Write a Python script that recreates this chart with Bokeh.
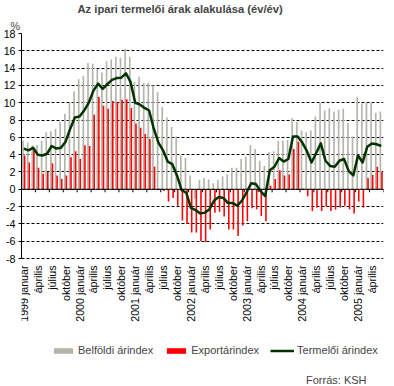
import numpy as np
from bokeh.plotting import figure
from bokeh.models import Range1d, FixedTicker, Span, Legend, LegendItem, Title, Label
from bokeh.core.properties import value
from bokeh.embed import file_html
from bokeh.resources import INLINE

years = ["1999", "2000", "2001", "2002", "2003", "2004", "2005"]
month_names = ["január", "február", "március", "április", "május", "június",
               "július", "augusztus", "szeptember", "október", "november", "december"]

belfoldi = [
    5.6, 5.4, 5.1, 5.1, 5.6, 6.6, 6.7, 7.0, 7.8, 8.7, 10.0, 11.3,
    12.7, 13.1, 14.6, 14.5, 13.9, 13.5, 14.8, 15.0, 15.3, 15.2, 16.2, 15.3,
    12.4, 13.0, 12.3, 12.3, 12.0, 11.2, 9.5, 8.3, 7.2, 6.1, 3.9, 3.6,
    1.6, -1.1, 1.1, 1.3, 1.15, 0.7, 1.1, 1.5, 1.7, 2.5, 2.5, 3.5,
    3.8, 5.1, 4.65, 3.3, 2.7, 4.3, 4.4, 5.6, 5.6, 5.7, 8.2, 7.8,
    6.8, 6.6, 6.8, 8.4, 10.0, 9.1, 9.35, 9.0, 9.2, 9.3, 7.65, 6.1,
    10.65, 9.95, 10.0, 10.0, 8.8, 9.0,
]
export = [
    3.9, 3.1, 4.5, 2.5, 1.8, 2.0, 3.0, 1.6, 1.2, 1.6, 3.7, 4.4,
    3.5, 5.1, 5.0, 8.6, 10.65, 9.65, 9.3, 10.2, 10.05, 10.35, 10.4, 9.4,
    7.6, 7.1, 6.4, 5.8, 2.6, 0.05, -0.2, -1.4, -1.0, -1.9, -3.6, -4.0,
    -5.0, -5.0, -6.0, -6.1, -4.65, -2.7, -2.6, -3.15, -4.65, -4.65, -5.4, -4.2,
    -3.7, -2.2, -2.3, -3.1, -3.7, 0.4, 1.2, 2.2, 1.6, 1.7, 4.65, 5.5,
    0.05, -0.8, -2.5, -2.1, -2.5, -2.0, -2.5, -2.35, -2.1, -1.9, -2.3, -2.8,
    -1.4, -2.1, 1.3, 1.65, 2.6, 2.0,
]
termeloi = [
    4.7, 4.5, 4.8, 4.0, 3.9, 4.1, 5.0, 4.7, 4.8, 5.5, 7.0, 8.3,
    8.4, 9.1, 10.0, 11.4, 12.2, 11.6, 12.15, 12.65, 12.85, 12.9, 13.4, 12.4,
    10.0, 9.8, 9.4, 9.1, 7.0, 5.4, 4.5, 3.2, 2.9, 1.6, -0.1, -0.4,
    -2.15, -2.4, -2.8, -2.7, -2.3, -1.3, -0.9, -1.0, -1.6, -1.6, -1.9, -1.3,
    -0.35, 0.7, 0.6, -0.2, -0.8, 2.2, 2.6, 3.6, 3.2, 3.5, 6.1, 6.1,
    5.4, 4.4, 3.1, 4.2, 5.3, 3.3, 2.7, 2.6, 3.3, 3.5, 2.1, 1.6,
    3.9, 3.1, 4.9, 5.3, 5.2, 5.0,
]
y_ticks = list(range(-8, 19, 2))

n = len(termeloi)
idx = np.arange(n)

x_tick_pos = list(range(0, n, 3))
x_tick_text = []
for i in x_tick_pos:
    m = month_names[i % 12]
    x_tick_text.append((years[i // 12] + " " + m) if i % 12 == 0 else m)

FONT = "Liberation Sans"
FS = "10.67px"

Y_TOP, Y_BOT = 18, -8
PX_PER_UNIT = 225 / (Y_TOP - Y_BOT)
FRAME_H = 352
y_min = Y_TOP - FRAME_H / PX_PER_UNIT   # room below the axis for labels/legend

p = figure(frame_width=362, frame_height=FRAME_H,
           x_range=Range1d(-0.5, n - 0.5), y_range=Range1d(y_min, Y_TOP),
           output_backend="svg", toolbar_location=None,
           min_border_left=19, min_border_right=5, min_border_top=26,
           min_border_bottom=0)
p.outline_line_color = None

# main title (outermost above)
p.title.text = "Az ipari termelői árak alakulása (év/év)"
p.title.text_font = FONT
p.title.text_font_style = "bold"
p.title.text_font_size = "11.2px"
p.title.align = "left"
p.title.offset = 56
p.title.standoff = 1

# "%" unit label just above the y axis
p.add_layout(Title(text="%", align="left", offset=-11, standoff=4,
                   text_font=FONT, text_font_size=FS,
                   text_font_style="normal"), "above")

# grid
p.xgrid.visible = False
p.ygrid.grid_line_color = "black"
p.ygrid.grid_line_dash = "3 2"
p.ygrid.grid_line_width = 1

# y axis
p.yaxis.ticker = FixedTicker(ticks=y_ticks, minor_ticks=[])
p.yaxis.bounds = (Y_BOT, Y_TOP)
p.yaxis.major_label_overrides = {t: str(t) for t in y_ticks}
p.yaxis.axis_line_color = "black"
p.yaxis.major_tick_line_color = "black"
p.yaxis.major_tick_in = 0
p.yaxis.major_tick_out = 3
p.yaxis.minor_tick_line_color = None
p.yaxis.major_label_standoff = 3
p.yaxis.major_label_text_font = FONT
p.yaxis.major_label_text_font_size = FS
p.yaxis.major_label_text_color = "black"

p.xaxis.visible = False

# bars
r_bel = p.vbar(x=idx - 0.17, top=belfoldi, bottom=0, width=0.36,
               fill_color="#b4b4aa", line_color=None)
r_exp = p.vbar(x=idx + 0.17, top=export, bottom=0, width=0.34,
               fill_color="#ff0000", line_color=None)

# category axis at zero with quarter tick marks
p.add_layout(Span(location=0, dimension="width", line_color="black", line_width=1))
bounds = np.arange(0, n + 1, 3) - 0.5
p.segment(x0=bounds, y0=np.zeros(len(bounds)), x1=bounds,
          y1=np.full(len(bounds), -3 / PX_PER_UNIT), line_color="black", line_width=1)

# category labels, vertical, below the plot area
p.text(x=x_tick_pos, y=np.full(len(x_tick_pos), Y_BOT - 7 / PX_PER_UNIT),
       text=x_tick_text, angle=np.pi / 2, text_align="right",
       text_baseline="middle", text_font=value(FONT),
       text_font_size=value(FS), text_color="black")

# line
r_ter = p.line(x=idx, y=termeloi, line_color="#003300", line_width=2.5,
               line_join="round")

legend = Legend(items=[
    LegendItem(label="Belföldi árindex", renderers=[r_bel]),
    LegendItem(label="Exportárindex", renderers=[r_exp]),
    LegendItem(label="Termelői árindex", renderers=[r_ter]),
], orientation="horizontal", location=(30, 29),
    glyph_width=24, glyph_height=7, label_height=12, label_standoff=3,
    spacing=11, padding=2, margin=0, border_line_color=None,
    background_fill_alpha=0, label_text_font=FONT, label_text_font_size="11px")
p.add_layout(legend, "center")

p.add_layout(Label(x=n - 0.5, y=y_min + 6 / PX_PER_UNIT, x_offset=-17,
                   text="Forrás: KSH", text_font=FONT, text_font_size="11px",
                   text_align="right", text_baseline="middle"))

open("out.html", "w").write(file_html(p, INLINE))
